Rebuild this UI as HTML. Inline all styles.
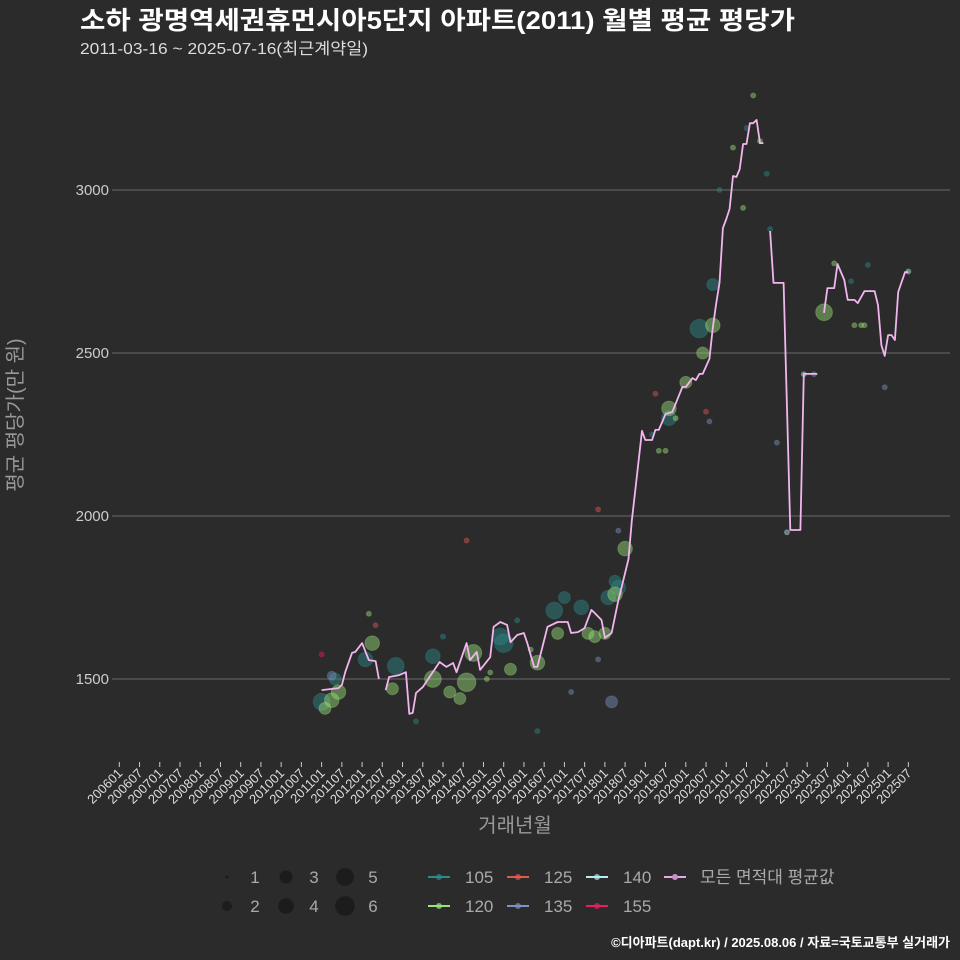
<!DOCTYPE html>
<html><head><meta charset="utf-8"><style>
body{margin:0;background:#2b2b2b;}
svg{display:block;font-family:"Liberation Sans","Noto Sans CJK KR",sans-serif;}
</style></head><body>
<svg id="c" width="960" height="960" viewBox="0 0 960 960">
<rect width="960" height="960" fill="#2b2b2b"/>
<text x="80" y="29" fill="#ffffff" font-size="25" font-weight="bold" textLength="715" lengthAdjust="spacingAndGlyphs">소하 광명역세권휴먼시아5단지 아파트(2011) 월별 평균 평당가</text>
<text x="80" y="54" fill="#dddddd" font-size="16" textLength="288" lengthAdjust="spacingAndGlyphs">2011-03-16 ~ 2025-07-16(최근계약일)</text>
<g id="grid"></g>
<g id="yticks"></g>
<g id="xticks"></g>
<g id="pts"></g>
<g id="line"></g>
<text x="515" y="832" fill="#999" font-size="20" text-anchor="middle">거래년월</text>
<text transform="translate(22,415) rotate(-90)" fill="#999" font-size="20" text-anchor="middle">평균 평당가(만 원)</text>
<g id="legend"></g>
<text x="950" y="947" fill="#ffffff" font-size="13" font-weight="bold" text-anchor="end">©디아파트(dapt.kr) / 2025.08.06 / 자료=국토교통부 실거래가</text>
</svg>
<script>
const yTicks=[1500,2000,2500,3000];
const lineDates=["2011-01","2011-06","2011-07","2011-08","2011-10","2011-11","2012-01","2012-03","2012-05","2012-06",null,"2012-08","2012-09","2012-12","2013-02","2013-03","2013-04","2013-05","2013-07","2013-09","2013-12","2014-02","2014-04","2014-05","2014-08","2014-09","2014-11","2014-12","2015-03","2015-04","2015-06","2015-08","2015-09","2015-11","2016-01","2016-02","2016-04","2016-05","2016-08","2016-11","2017-02","2017-03","2017-05","2017-07","2017-09","2017-10","2017-12","2018-01","2018-03","2018-05","2018-07","2018-08","2018-09","2018-12","2019-01","2019-03","2019-04","2019-05","2019-07","2019-09","2019-12","2020-01","2020-03","2020-04","2020-05","2020-06","2020-08","2020-09","2020-10","2020-11","2020-12","2021-01","2021-02","2021-03","2021-04","2021-05","2021-06","2021-07","2021-08","2021-09","2021-10","2021-11","2021-12",null,"2022-02","2022-03","2022-06","2022-08","2022-11","2022-12","2023-04",null,"2023-06","2023-07","2023-09","2023-10","2023-12","2024-01","2024-03","2024-04","2024-06","2024-09","2024-10","2024-11","2024-12","2025-01","2025-02","2025-03","2025-04","2025-06","2025-07"];
const lineValues=[1466,1472,1482,1521,1580,1583,1610,1558,1555,1500,null,1466,1506,1512,1521,1393,1396,1457,1475,1506,1552,1537,1549,1521,1610,1558,1583,1528,1567,1660,1675,1666,1613,1635,1641,1610,1537,1537,1660,1675,1675,1641,1644,1656,1712,1702,1681,1626,1641,1742,1825,1868,1985,2261,2233,2233,2264,2264,2313,2319,2396,2396,2423,2417,2436,2436,2482,2577,2650,2715,2883,2911,2942,3043,3040,3064,3141,3141,3205,3205,3215,3144,3144,null,2874,2715,2715,1957,1957,2436,2436,null,2623,2699,2699,2773,2724,2663,2663,2653,2690,2690,2647,2524,2491,2555,2555,2540,2687,2748,2748];
const ptDates=["2011-01","2011-05","2012-02","2012-11","2013-10","2014-01","2015-06","2015-07","2016-10","2017-01","2017-06","2018-02","2018-04","2018-05","2019-08","2020-05","2020-09","2020-11","2021-07","2022-01","2022-02","2024-02","2024-07","2016-05","2013-05","2015-11","2019-03",
"2011-02","2011-04","2011-06","2012-04","2012-10","2013-10","2014-03","2014-06","2014-08","2014-10","2015-02","2015-09","2016-05","2016-11","2017-08","2017-10","2018-01","2018-04","2018-07","2019-08","2020-01","2020-06","2020-09","2021-06","2021-09","2021-11","2023-06","2023-09","2024-03","2024-05","2024-06","2019-05","2019-07","2012-03","2015-03","2016-03","2019-10","2021-03",
"2012-05","2014-08","2017-11","2019-04","2020-07",
"2011-04","2017-03","2017-11","2018-03","2020-08","2022-04","2023-03","2024-12","2018-05",
"2025-07","2022-12","2022-07","2011-01"];
const ptValues=[1430,1500,1560,1540,1570,1630,1630,1610,1710,1750,1720,1750,1800,1780,2300,2575,2710,3000,3190,3050,2880,2720,2770,1340,1370,1680,2250,
1410,1435,1460,1610,1470,1500,1460,1440,1490,1580,1500,1530,1550,1640,1640,1630,1640,1760,1900,2330,2410,2500,2585,2945,3290,3150,2625,2775,2585,2585,2585,2200,2200,1700,1520,1590,2300,3130,
1665,1925,2020,2375,2320,
1510,1460,1560,1430,2290,2225,2435,2395,1955,
2750,2435,1950,1575];
const ptCounts=[5,3,4,5,4,1,5,6,5,3,4,4,3,4,4,6,3,1,1,1,1,1,1,1,1,1,1,
3,4,4,4,3,5,3,3,6,5,1,3,4,3,3,3,3,4,4,4,3,3,4,1,1,1,5,1,1,1,1,1,1,1,1,1,1,1,
1,1,1,1,1,
2,1,1,3,1,1,1,1,1,
1,1,1,1];
const ptTypes=[].concat(Array(27).fill("105"),Array(38).fill("120"),Array(5).fill("125"),Array(9).fill("135"),Array(3).fill("140"),["155"]);
const legendSizes=[1,2,3,4,5,6];
const legendTypes=["105","120","125","135","140","155"];
const typeColor={"105":"#2f8a8a","120":"#9be27a","125":"#e0584e","135":"#7a92c4","140":"#b4eeee","155":"#e8205e"};
const radius=[0,2.5,4.5,6,7.3,8.4,9.3];
const NS="http://www.w3.org/2000/svg";
function mk(t,a,p){const e=document.createElementNS(NS,t);for(const k in a)e.setAttribute(k,a[k]);p.appendChild(e);return e;}
function mIdx(d){const [y,m]=d.split("-").map(Number);return (y-2006)*12+(m-1);}
function xS(d){return 119.3+mIdx(d)*3.372;}
function yS(v){return 679-(v-1500)*163/500;}
const grid=document.getElementById('grid'),yt=document.getElementById('yticks');
yTicks.forEach(v=>{
 const l=mk('line',{x1:112,x2:950,y1:yS(v),y2:yS(v),stroke:'#6a6a6a','stroke-width':1},grid);
 
 
 const t=mk('text',{x:109,y:yS(v)+5,fill:'#cccccc','font-size':15,'text-anchor':'end'},yt);
 t.textContent=v;
 
 
});
const xt=document.getElementById('xticks');
for(let y=2006;y<=2025;y++){for(const m of ["01","07"]){
 const d=y+"-"+m,x=xS(d);
 const tk=mk('line',{x1:x,x2:x,y1:762,y2:767,stroke:'#cccccc','stroke-width':1},xt);
 
 
 const t=mk('text',{transform:`translate(${x+4},${774}) rotate(-45)`,fill:'#dddddd','font-size':13,'text-anchor':'end'},xt);
 t.textContent=y+m;
 
 
}}
const pts=document.getElementById('pts');
ptDates.forEach((d,i)=>{
 const c=mk('circle',{cx:xS(d),cy:yS(ptValues[i]),r:radius[ptCounts[i]],fill:typeColor[ptTypes[i]],'fill-opacity':0.45,stroke:typeColor[ptTypes[i]],'stroke-opacity':0.3},pts);
 
 
});
const lg=document.getElementById('line');
let seg=[];
function flush(){if(seg.length){const p=mk('polyline',{points:seg.join(' '),fill:'none',stroke:'#f2b6ee','stroke-width':1.8,'stroke-linejoin':'round'},lg);
 
 }seg=[];}
lineDates.forEach((d,i)=>{if(d===null){flush();}else seg.push(xS(d).toFixed(1)+','+yS(lineValues[i]).toFixed(1));});
flush();
const lgd=document.getElementById('legend');
legendSizes.forEach((s,i)=>{
 const col=Math.floor(i/2),row=i%2,cx=227+col*59,cy=877+row*29;
 const c=mk('circle',{cx:cx,cy:cy,r:s===1?1.5:radius[s]+0.5,fill:'#1c1c1c'},lgd);
 
 
 const t=mk('text',{x:cx+28,y:cy+6,fill:'#aaaaaa','font-size':17,'text-anchor':'middle'},lgd);
 t.textContent=s;
 
 
});
legendTypes.forEach((ty,i)=>{
 const col=Math.floor(i/2),row=i%2,x=428+col*79,cy=877+row*29;
 const g=mk('g',{},lgd);
 
 
 mk('line',{x1:x,x2:x+22,y1:cy,y2:cy,stroke:typeColor[ty],'stroke-width':2},g);
 mk('circle',{cx:x+11,cy:cy,r:3,fill:typeColor[ty],'fill-opacity':0.7},g);
 const t=mk('text',{x:x+37,y:cy+6,fill:'#aaaaaa','font-size':17},g);
 t.textContent=ty;
});
const ga=mk('g',{},lgd);


mk('line',{x1:664,x2:686,y1:877,y2:877,stroke:'#e8a8e8','stroke-width':2},ga);
mk('circle',{cx:675,cy:877,r:3,fill:'#c890c8'},ga);
const ta=mk('text',{x:700,y:883,fill:'#aaaaaa','font-size':17},ga);
ta.textContent='모든 면적대 평균값';
</script>
</body></html>
